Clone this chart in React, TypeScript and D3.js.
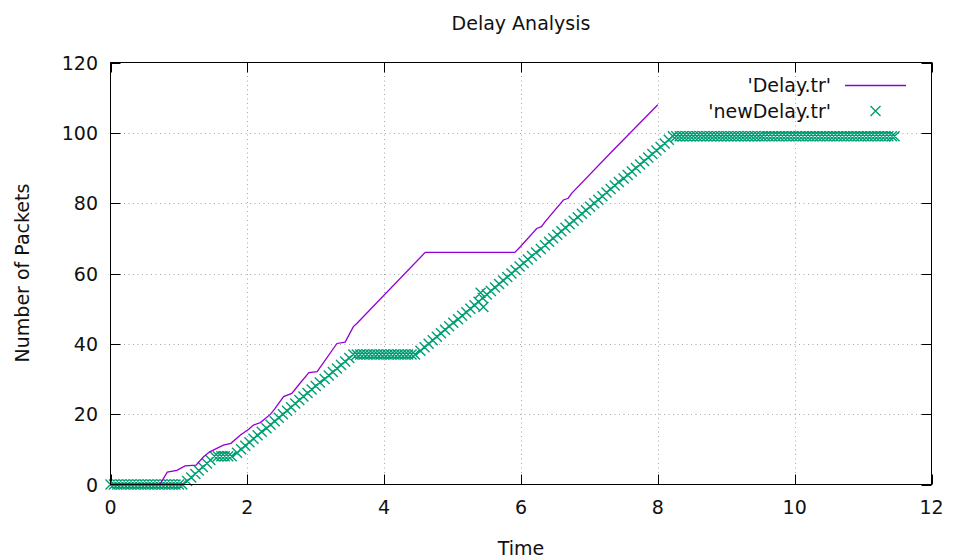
import React from "react";
import * as d3 from "d3";

const W = 955;
const H = 559;

const xTicks = [0, 2, 4, 6, 8, 10, 12];
const yTicks = [0, 20, 40, 60, 80, 100, 120];

const titleText = "Delay Analysis";
const xLabel = "Time";
const yLabel = "Number of Packets";
const seriesNames = ["'Delay.tr'", "'newDelay.tr'"];

// 'Delay.tr' : [time, packets]
const delayPoints: [number, number][] = [
  [0.0, 0], [0.72, 0], [0.83, 3.5], [0.97, 4], [1.09, 5.3], [1.25, 5.5],
  [1.36, 7.9], [1.45, 9.3], [1.65, 11.2], [1.76, 11.7], [1.9, 14.1],
  [2.02, 15.7], [2.09, 16.9], [2.19, 17.6], [2.34, 20.0], [2.4, 21.5],
  [2.53, 25], [2.65, 25.9], [2.77, 28.8], [2.9, 31.8], [3.02, 32.1],
  [3.09, 34], [3.31, 40.1], [3.43, 40.5], [3.55, 44.9], [3.6, 45.8],
  [4.6, 66], [5.91, 66], [5.99, 67.6], [6.23, 72.8], [6.3, 73.3],
  [6.35, 74.7], [6.62, 80.9], [6.69, 81.4], [6.74, 82.8], [7.35, 95.1],
  [8.0, 108],
];

// 'newDelay.tr' : [time, packets]
const newDelayPoints: [number, number][] = [
  [0.0, 0], [0.05, 0], [0.1, 0], [0.15, 0], [0.2, 0], [0.25, 0], [0.3, 0],
  [0.35, 0], [0.4, 0], [0.45, 0], [0.5, 0], [0.55, 0], [0.6, 0], [0.65, 0],
  [0.7, 0], [0.75, 0], [0.8, 0], [0.85, 0], [0.9, 0], [0.95, 0], [1.0, 0],
  [1.05, 0],
  [1.12, 1], [1.18, 2], [1.24, 3], [1.29, 4], [1.35, 5], [1.41, 6], [1.46, 7],
  [1.52, 8], [1.57, 8], [1.62, 8], [1.67, 8], [1.72, 8], [1.77, 8],
  [1.85, 9], [1.91, 10], [1.97, 11], [2.03, 12], [2.09, 13], [2.15, 14],
  [2.21, 15], [2.28, 16], [2.34, 17], [2.4, 18], [2.46, 19], [2.52, 20],
  [2.58, 21], [2.64, 22], [2.7, 23], [2.76, 24], [2.82, 25], [2.88, 26],
  [2.94, 27], [3.0, 28], [3.06, 29], [3.13, 30], [3.19, 31], [3.25, 32],
  [3.31, 33], [3.37, 34], [3.43, 35], [3.49, 36], [3.55, 37],
  [3.6, 37], [3.65, 37], [3.7, 37], [3.75, 37], [3.8, 37], [3.85, 37],
  [3.9, 37], [3.95, 37], [4.0, 37], [4.05, 37], [4.1, 37], [4.15, 37],
  [4.2, 37], [4.25, 37], [4.3, 37], [4.35, 37], [4.4, 37], [4.45, 37],
  [4.53, 38], [4.59, 39], [4.65, 40], [4.71, 41], [4.77, 42], [4.83, 43],
  [4.89, 44], [4.95, 45], [5.01, 46], [5.08, 47], [5.14, 48], [5.2, 49],
  [5.26, 50], [5.32, 51], [5.38, 52], [5.41, 54.5], [5.45, 50.5], [5.44, 53],
  [5.5, 54], [5.56, 55], [5.62, 56], [5.68, 57], [5.74, 58], [5.8, 59],
  [5.86, 60], [5.92, 61], [5.98, 62], [6.04, 63], [6.1, 64], [6.16, 65],
  [6.22, 66], [6.29, 67], [6.35, 68], [6.41, 69], [6.47, 70], [6.53, 71],
  [6.59, 72], [6.65, 73], [6.71, 74], [6.77, 75], [6.83, 76], [6.89, 77],
  [6.95, 78], [7.01, 79], [7.07, 80], [7.13, 81], [7.19, 82], [7.25, 83],
  [7.31, 84], [7.37, 85], [7.43, 86], [7.5, 87], [7.56, 88], [7.62, 89],
  [7.68, 90], [7.74, 91], [7.8, 92], [7.86, 93], [7.92, 94], [7.98, 95],
  [8.04, 96], [8.1, 97], [8.16, 98], [8.22, 99],
  [8.27, 99], [8.32, 99], [8.37, 99], [8.42, 99], [8.47, 99], [8.52, 99],
  [8.57, 99], [8.62, 99], [8.67, 99], [8.72, 99], [8.77, 99], [8.82, 99],
  [8.87, 99], [8.92, 99], [8.97, 99], [9.02, 99], [9.07, 99], [9.12, 99],
  [9.17, 99], [9.22, 99], [9.27, 99], [9.32, 99], [9.37, 99], [9.42, 99],
  [9.47, 99], [9.52, 99], [9.57, 99], [9.62, 99], [9.67, 99], [9.72, 99],
  [9.77, 99], [9.82, 99], [9.87, 99], [9.92, 99], [9.97, 99], [10.02, 99],
  [10.07, 99], [10.12, 99], [10.17, 99], [10.22, 99], [10.27, 99], [10.32, 99],
  [10.37, 99], [10.42, 99], [10.47, 99], [10.52, 99], [10.57, 99], [10.62, 99],
  [10.67, 99], [10.72, 99], [10.77, 99], [10.82, 99], [10.87, 99], [10.92, 99],
  [10.97, 99], [11.02, 99], [11.07, 99], [11.12, 99], [11.17, 99], [11.22, 99],
  [11.27, 99], [11.32, 99], [11.37, 99], [11.42, 99], [11.46, 99],
];

const PURPLE = "#9400d3";
const GREEN = "#009e73";
const FONT = "'DejaVu Sans', sans-serif";
const FS = 19;

export default function App() {
  const left = 110.5;
  const right = 931.5;
  const top = 62.5;
  const bottom = 484.5;
  const x = d3.scaleLinear().domain([0, 12]).range([left, right]);
  const y = d3.scaleLinear().domain([0, 120]).range([bottom, top]);
  const line = d3
    .line<[number, number]>()
    .x((d) => x(d[0]))
    .y((d) => y(d[1]));
  const s = 5;
  const cross = (cx: number, cy: number) =>
    `M${cx - s},${cy - s}L${cx + s},${cy + s}M${cx - s},${cy + s}L${cx + s},${cy - s}`;
  const tickLen = 10;
  const markerPath = newDelayPoints.map((d) => cross(x(d[0]), y(d[1]))).join("");

  return (
    <svg
      width={W}
      height={H}
      style={{ position: "absolute", left: 0, top: 0, background: "#fff" }}
      fontFamily={FONT}
    >
      <rect width={W} height={H} fill="#fff" />
      {/* grid */}
      <g stroke="#a8a8a8" strokeWidth={1} strokeDasharray="1,3.5">
        {xTicks.slice(1, -1).map((t) => (
          <line key={"gx" + t} x1={Math.round(x(t)) + 0.5} x2={Math.round(x(t)) + 0.5} y1={top} y2={bottom} />
        ))}
        {yTicks.slice(1, -1).map((t) => (
          <line key={"gy" + t} x1={left} x2={right} y1={Math.round(y(t)) + 0.5} y2={Math.round(y(t)) + 0.5} />
        ))}
      </g>
      {/* ticks */}
      <g stroke="#000" strokeWidth={1}>
        {xTicks.map((t) => {
          const px = Math.round(x(t)) + 0.5;
          return (
            <g key={"tx" + t}>
              <line x1={px} x2={px} y1={bottom} y2={bottom - tickLen} />
              <line x1={px} x2={px} y1={top} y2={top + tickLen} />
            </g>
          );
        })}
        {yTicks.map((t) => {
          const py = Math.round(y(t)) + 0.5;
          return (
            <g key={"ty" + t}>
              <line x1={left} x2={left + tickLen} y1={py} y2={py} />
              <line x1={right} x2={right - tickLen} y1={py} y2={py} />
            </g>
          );
        })}
      </g>
      {/* data */}
      <path d={markerPath} fill="none" stroke={GREEN} strokeWidth={1.4} />
      <path d={line(delayPoints) || ""} fill="none" stroke={PURPLE} strokeWidth={1.3} />
      {/* frame */}
      <rect x={left} y={top} width={right - left} height={bottom - top} fill="none" stroke="#000" strokeWidth={1} />
      {/* tick labels */}
      <g fontSize={FS} fill="#111">
        {xTicks.map((t) => (
          <text key={"lx" + t} x={x(t)} y={514} textAnchor="middle">
            {t}
          </text>
        ))}
        {yTicks.map((t) => (
          <text key={"ly" + t} x={98} y={y(t) + 7} textAnchor="end">
            {t}
          </text>
        ))}
      </g>
      {/* titles */}
      <text x={521} y={30} fontSize={FS} textAnchor="middle" fill="#111">
        {titleText}
      </text>
      <text x={521} y={555} fontSize={FS} textAnchor="middle" fill="#111">
        {xLabel}
      </text>
      <text
        transform={`translate(29,273) rotate(-90)`}
        fontSize={FS}
        textAnchor="middle"
        fill="#111"
      >
        {yLabel}
      </text>
      {/* legend */}
      <g fontSize={FS} fill="#111">
        <text x={831} y={92} textAnchor="end">
          {seriesNames[0]}
        </text>
        <line x1={845} x2={906} y1={85.5} y2={85.5} stroke={PURPLE} strokeWidth={1.3} />
        <text x={831} y={118} textAnchor="end">
          {seriesNames[1]}
        </text>
        <path d={cross(875.5, 111)} stroke={GREEN} strokeWidth={1.4} fill="none" />
      </g>
    </svg>
  );
}
